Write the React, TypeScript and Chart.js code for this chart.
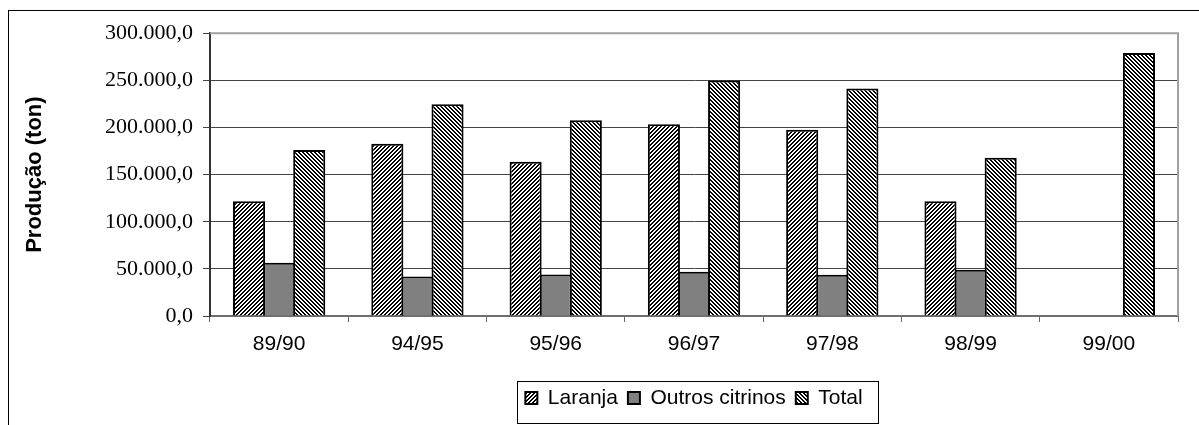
import React, { useEffect, useRef } from 'react';
import { Chart, registerables } from 'chart.js';

Chart.register(...registerables);

const categories = ['89/90', '94/95', '95/96', '96/97', '97/98', '98/99', '99/00'];
const seriesNames = ['Laranja', 'Outros citrinos', 'Total'];
const laranja = [121700, 182800, 163600, 203500, 197600, 121700, null];
const outros = [56600, 42000, 44100, 46900, 43700, 49000, null];
const total = [176200, 224500, 207700, 249700, 241300, 167800, 279000];
const yMin = 0;
const yMax = 300000;
const yStep = 50000;
const yTitle = 'Produção (ton)';

function fmt(v: number): string {
  const s = Math.round(v).toString().replace(/\B(?=(\d{3})+(?!\d))/g, '.');
  return s + ',0';
}

function makePattern(ctx: CanvasRenderingContext2D, dir: number): CanvasPattern | string {
  const n = 4;
  const c = document.createElement('canvas');
  c.width = n;
  c.height = n;
  const tctx = c.getContext('2d')!;
  const img = tctx.createImageData(n, n);
  for (let y = 0; y < n; y++) {
    for (let x = 0; x < n; x++) {
      const k = dir === 1 ? (x + y) % n : (((x - y) % n) + n) % n;
      const v = k < 2 ? 0 : 255;
      const i = (y * n + x) * 4;
      img.data[i] = v;
      img.data[i + 1] = v;
      img.data[i + 2] = v;
      img.data[i + 3] = 255;
    }
  }
  tctx.putImageData(img, 0, 0);
  return ctx.createPattern(c, 'repeat') || '#fff';
}

const plotFrame = {
  id: 'plotFrame',
  beforeDatasetsDraw(chart: any) {
    const { ctx, chartArea } = chart;
    ctx.save();
    ctx.strokeStyle = '#a0a0a0';
    ctx.lineWidth = 2;
    ctx.beginPath();
    ctx.moveTo(chartArea.left, chartArea.top);
    ctx.lineTo(chartArea.right, chartArea.top);
    ctx.lineTo(chartArea.right, chartArea.bottom);
    ctx.stroke();
    ctx.restore();
  },
};

const legendBox = {
  id: 'legendBox',
  afterDraw(chart: any) {
    const lg = chart.legend;
    if (!lg || !lg.legendHitBoxes || !lg.legendHitBoxes.length) return;
    const hb = lg.legendHitBoxes;
    const left = Math.min(...hb.map((h: any) => h.left)) - 8;
    const right = Math.max(...hb.map((h: any) => h.left + h.width)) + 16;
    const cy = hb[0].top + hb[0].height / 2;
    const { ctx } = chart;
    ctx.save();
    ctx.strokeStyle = '#000';
    ctx.lineWidth = 1;
    ctx.strokeRect(Math.round(left) + 0.5, Math.round(cy - 17) + 0.5, Math.round(right - left), 42);
    ctx.restore();
  },
};

export default function App() {
  const ref = useRef<HTMLCanvasElement>(null);
  useEffect(() => {
    const canvas = ref.current!;
    const ctx = canvas.getContext('2d')!;
    const patFwd = makePattern(ctx, 1);
    const patBack = makePattern(ctx, -1);
    const sans = 'Arial, "Liberation Sans", sans-serif';
    const chart = new Chart(canvas, {
      type: 'bar',
      data: {
        labels: categories,
        datasets: [
          { label: seriesNames[0], data: laranja, backgroundColor: patFwd, borderColor: '#000', borderWidth: 2 },
          { label: seriesNames[1], data: outros, backgroundColor: '#808080', borderColor: '#000', borderWidth: 2 },
          { label: seriesNames[2], data: total, backgroundColor: patBack, borderColor: '#000', borderWidth: 2 },
        ],
      } as any,
      options: {
        responsive: false,
        animation: false,
        devicePixelRatio: 1,
        datasets: { bar: { categoryPercentage: 0.653, barPercentage: 1.066 } },
        layout: { padding: { top: 20, right: 21, left: 0, bottom: 6.5 } },
        plugins: {
          legend: {
            position: 'bottom',
            fullSize: false,
            labels: {
              font: { family: sans, size: 21 },
              color: '#000',
              boxWidth: 12,
              boxHeight: 12,
              padding: 10,
            },
          },
          tooltip: { enabled: false },
        },
        scales: {
          x: {
            grid: { drawOnChartArea: false, tickLength: 6, color: '#666', offset: true },
            border: { color: '#6e6e6e', width: 2 },
            ticks: { font: { family: sans, size: 21 }, color: '#000', padding: 10, maxRotation: 0 },
            afterFit: (s: any) => { s.height = 61.5; },
          },
          y: {
            min: yMin,
            max: yMax,
            ticks: {
              stepSize: yStep,
              callback: (v: any) => fmt(Number(v)),
              font: { family: '"Liberation Serif", "Times New Roman", serif', size: 22 },
              color: '#000',
              padding: 10,
            },
            grid: { color: '#444', tickLength: 7 },
            border: { color: '#333', width: 2 },
            title: {
              display: true,
              text: yTitle,
              font: { family: sans, size: 22, weight: 'bold' },
              color: '#000',
              padding: { top: 14, bottom: 0 },
            },
            afterFit: (s: any) => { s.width = 202; },
          },
        },
      } as any,
      plugins: [plotFrame, legendBox],
    });
    return () => chart.destroy();
  }, []);

  return (
    <div style={{ position: 'fixed', left: 8, top: 10, width: 1191, height: 415, overflow: 'hidden', background: '#fff' }}>
      <div style={{ position: 'absolute', left: 0, top: 0, width: 1220, height: 440, border: '1px solid #000', boxSizing: 'border-box' }} />
      <canvas ref={ref} width={1191} height={415} style={{ position: 'absolute', left: 0, top: 0, display: 'block' }} />
    </div>
  );
}
